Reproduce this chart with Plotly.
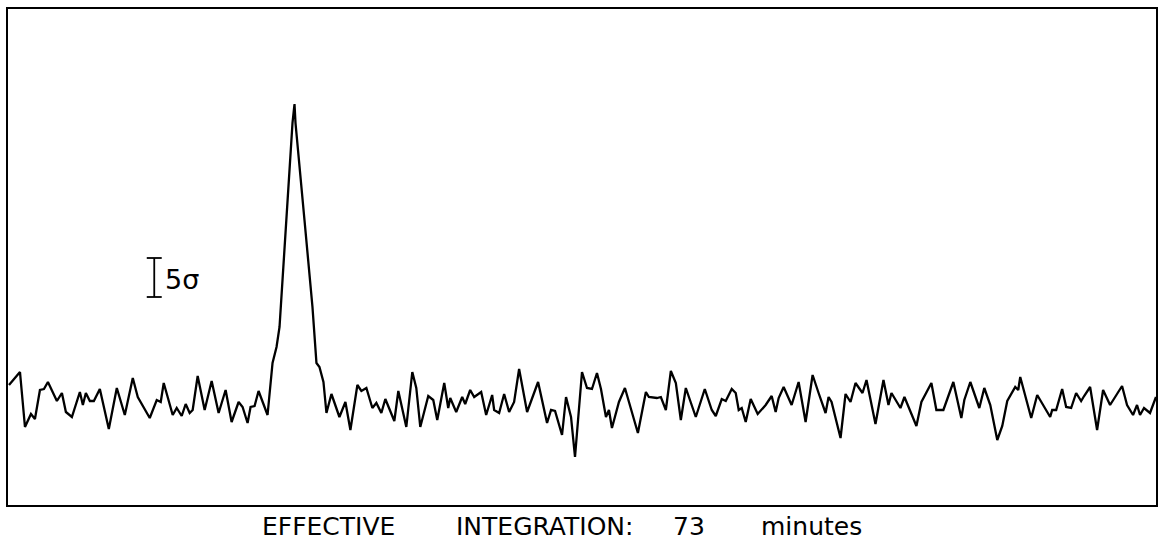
import plotly.graph_objects as go

# Channel (arbitrary units) and intensity (arbitrary units)
channel = [1, 12, 17, 23, 27, 32, 36, 40, 49, 54, 58, 64, 72, 75, 78, 82, 86, 92, 101, 109,
           117, 125, 130, 142, 149, 153, 156, 165, 169, 174, 178, 182, 185, 190, 197, 204, 211,
           218, 224, 231, 235, 240, 243, 247, 251, 260, 265, 269, 272, 279, 285, 287, 288, 297,
           305, 309, 312, 316, 319, 324, 332, 338, 343, 350, 354, 359, 365, 369, 374, 378, 387,
           391, 399, 405, 409, 413, 421, 426, 430, 437, 441, 443, 449, 455, 458, 463, 467, 474,
           479, 485, 487, 492, 497, 502, 507, 512, 520, 531, 540, 544, 548, 555, 559, 564, 568,
           575, 580, 585, 590, 594, 599, 602, 605, 612, 618, 631, 639, 642, 650, 654, 659, 664,
           669, 674, 679, 689, 698, 705, 709, 715, 719, 725, 729, 732, 735, 739, 744, 751, 759,
           765, 769, 772, 777, 785, 792, 799, 806, 812, 819, 822, 825, 834, 839, 844, 849, 856,
           860, 869, 877, 882, 885, 894, 898, 910, 915, 925, 930, 937, 947, 955, 958, 964, 973,
           978, 984, 991, 996, 1001, 1009, 1012, 1014, 1025, 1031, 1044, 1046, 1050, 1053, 1056,
           1060, 1065, 1070, 1075, 1078, 1084, 1091, 1097, 1104, 1110, 1116, 1121, 1127, 1131,
           1134, 1138, 1144, 1150]
intensity = [120, 133, 78, 91, 86, 115, 116, 123, 104, 112, 93, 88, 113, 100, 112, 104, 104, 116, 76, 117,
             90, 127, 108, 87, 105, 103, 122, 90, 97, 89, 101, 92, 95, 129, 95, 124, 92,
             115, 83, 103, 98, 82, 98, 99, 114, 90, 142, 158, 178, 285, 382, 401, 382, 285,
             198, 142, 138, 123, 92, 111, 88, 103, 75, 120, 114, 117, 97, 102, 92, 106, 84,
             114, 78, 133, 117, 78, 109, 105, 85, 122, 97, 107, 93, 108, 101, 115, 108, 113,
             90, 110, 95, 92, 111, 93, 103, 136, 93, 123, 82, 95, 94, 70, 108, 88, 48,
             133, 117, 116, 132, 116, 88, 95, 77, 103, 117, 72, 113, 108, 107, 108, 95, 134,
             122, 85, 117, 88, 116, 95, 89, 106, 104, 116, 112, 95, 97, 83, 106, 91, 100,
             109, 93, 107, 118, 100, 123, 83, 130, 112, 92, 108, 103, 67, 111, 103, 122, 112,
             125, 81, 125, 100, 112, 97, 108, 79, 103, 122, 95, 95, 123, 87, 105, 123, 97,
             117, 100, 65, 79, 104, 118, 115, 128, 87, 110, 88, 95, 95, 107, 116,
             98, 97, 112, 104, 109, 118, 75, 115, 100, 109, 119, 100, 90, 100,
             90, 97, 92, 108]

# Scale bar (5 sigma) and labels
scale_bar_channel = 146.5
scale_bar_low = 208
scale_bar_high = 247
scale_bar_label = "5σ"
caption_words = ["EFFECTIVE", "INTEGRATION:", "73", "minutes"]
caption_pixels = [329, 545, 690, 813]

fig = go.Figure()
fig.add_trace(go.Scatter(x=channel, y=intensity, mode="lines",
                         line=dict(color="black", width=2.3), hoverinfo="skip",
                         showlegend=False))

# scale bar
fig.add_shape(type="line", x0=scale_bar_channel, x1=scale_bar_channel,
              y0=scale_bar_low, y1=scale_bar_high, line=dict(color="black", width=1.8))
fig.add_shape(type="line", x0=scale_bar_channel - 7.5, x1=scale_bar_channel + 7.5,
              y0=scale_bar_low, y1=scale_bar_low, line=dict(color="black", width=1.8))
fig.add_shape(type="line", x0=scale_bar_channel - 7.5, x1=scale_bar_channel + 7.5,
              y0=scale_bar_high, y1=scale_bar_high, line=dict(color="black", width=1.8))
fig.add_annotation(x=scale_bar_channel + 9, y=(scale_bar_low + scale_bar_high) / 2 - 2,
                   text=scale_bar_label, showarrow=False, xanchor="left", yanchor="middle",
                   font=dict(family="DejaVu Sans", size=27, color="black"))

for w, px in zip(caption_words, caption_pixels):
    fig.add_annotation(x=(px - 8) / 1150, xref="paper", y=-0.076, yref="paper", text=w,
                       showarrow=False, xanchor="center", yanchor="bottom",
                       font=dict(family="DejaVu Sans", size=25, color="black"))

axis_common = dict(showgrid=False, zeroline=False, showticklabels=False, ticks="",
                   showline=True, linecolor="black", linewidth=2, mirror=True)
fig.update_xaxes(range=[0, 1150], **axis_common)
fig.update_yaxes(range=[0, 496], **axis_common)
fig.update_layout(width=1159, height=544,
                  margin=dict(l=8, r=1, t=9, b=39),
                  paper_bgcolor="white", plot_bgcolor="white")
fig.write_html("out.html")
